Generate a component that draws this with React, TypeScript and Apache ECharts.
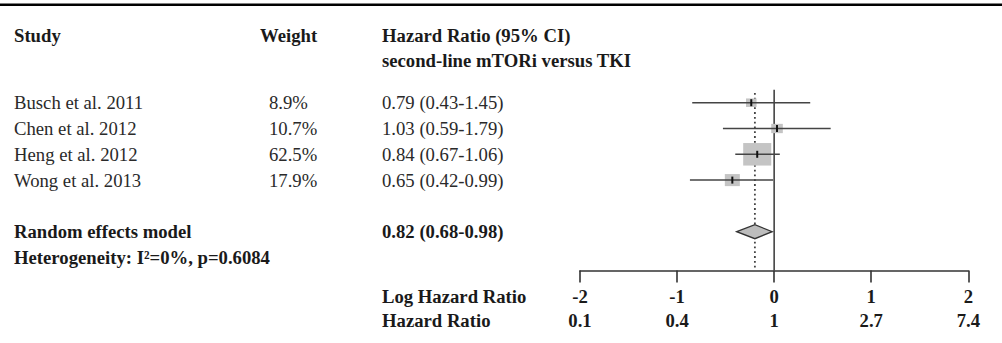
import React, { useEffect, useRef } from "react";
import * as echarts from "echarts";

const studies = ["Busch et al. 2011", "Chen et al. 2012", "Heng et al. 2012", "Wong et al. 2013"];
const weights = [8.9, 10.7, 62.5, 17.9];
const weightLabels = ["8.9%", "10.7%", "62.5%", "17.9%"];
const hr = [0.79, 1.03, 0.84, 0.65];
const lower = [0.43, 0.59, 0.67, 0.42];
const upper = [1.45, 1.79, 1.06, 0.99];
const hrLabels = ["0.79 (0.43-1.45)", "1.03 (0.59-1.79)", "0.84 (0.67-1.06)", "0.65 (0.42-0.99)"];

const pooledHR = 0.82;
const pooledLower = 0.68;
const pooledUpper = 0.98;
const pooledLabel = "0.82 (0.68-0.98)";
const summaryRow = 5;
const heterogeneityRow = 6;

const logTicks = [-2, -1, 0, 1, 2];
const hrTickLabels = ["0.1", "0.4", "1", "2.7", "7.4"];

const FONT = "'Liberation Serif', 'Times New Roman', serif";
const FS = 18.7;

export default function App() {
  const ref = useRef<HTMLDivElement>(null);

  useEffect(() => {
    if (!ref.current) return;
    const chart = echarts.init(ref.current, undefined, { renderer: "svg" });

    const studyData = studies.map((s, i) => [
      Math.log(hr[i]),
      i,
      Math.log(lower[i]),
      Math.log(upper[i]),
      weights[i],
    ]);
    const pooledData = [[Math.log(pooledHR), summaryRow, Math.log(pooledLower), Math.log(pooledUpper)]];
    const refData = [
      [0, -0.5, 0],
      [Math.log(pooledHR), -0.38, 1],
    ];

    const option: any = {
      animation: false,
      grid: { left: 580, right: 33.7, top: 89.8, bottom: 72.6 },
      xAxis: {
        type: "value",
        position: "bottom",
        min: -2,
        max: 2,
        interval: 1,
        splitLine: { show: false },
        axisLine: { show: true, onZero: false, lineStyle: { color: "#333", width: 1.6 } },
        axisTick: { show: true, length: 12, lineStyle: { color: "#333", width: 1.6 } },
        axisLabel: {
          margin: 14,
          formatter: (v: number) => {
            const idx = logTicks.indexOf(v);
            return `{a|${v}}\n{b|${idx >= 0 ? hrTickLabels[idx] : ""}}`;
          },
          rich: {
            a: { fontFamily: FONT, fontSize: FS, fontWeight: "bold", color: "#1a1a1a", lineHeight: 24 },
            b: { fontFamily: FONT, fontSize: FS, fontWeight: "bold", color: "#1a1a1a", lineHeight: 24 },
          },
        },
      },
      yAxis: {
        type: "value",
        inverse: true,
        min: -0.5,
        max: 6.5,
        show: false,
      },
      series: [
        {
          type: "custom",
          z: 1,
          data: refData,
          renderItem: (params: any, api: any) => {
            const x = api.value(0);
            const top = api.coord([x, api.value(1)]);
            const bottom = api.coord([x, 6.5]);
            const dotted = api.value(2) === 1;
            return {
              type: "line",
              shape: { x1: top[0], y1: top[1], x2: bottom[0], y2: bottom[1] },
              style: {
                stroke: "#444",
                lineWidth: dotted ? 1.8 : 1.6,
                lineDash: dotted ? [1.8, 3] : null,
              },
            };
          },
        },
        {
          type: "custom",
          z: 2,
          data: studyData,
          encode: { x: [0, 2, 3], y: 1 },
          renderItem: (params: any, api: any) => {
            const est = api.value(0);
            const row = api.value(1);
            const lo = api.value(2);
            const hi = api.value(3);
            const w = api.value(4);
            const p = api.coord([est, row]);
            const pl = api.coord([lo, row]);
            const ph = api.coord([hi, row]);
            const bw = 3.55 * Math.sqrt(w);
            const bh = 2.85 * Math.sqrt(w);
            return {
              type: "group",
              children: [
                {
                  type: "rect",
                  shape: { x: p[0] - bw / 2, y: p[1] - bh / 2, width: bw, height: bh },
                  style: { fill: "#c4c4c4" },
                },
                {
                  type: "line",
                  shape: { x1: pl[0], y1: p[1], x2: ph[0], y2: p[1] },
                  style: { stroke: "#444", lineWidth: 1.5 },
                },
                {
                  type: "line",
                  shape: { x1: p[0], y1: p[1] - 3.5, x2: p[0], y2: p[1] + 3.5 },
                  style: { stroke: "#111", lineWidth: 2 },
                },
              ],
            };
          },
        },
        {
          type: "custom",
          z: 2,
          data: pooledData,
          encode: { x: [0, 2, 3], y: 1 },
          renderItem: (params: any, api: any) => {
            const row = api.value(1);
            const p = api.coord([api.value(0), row]);
            const pl = api.coord([api.value(2), row]);
            const ph = api.coord([api.value(3), row]);
            const h = 7;
            return {
              type: "polygon",
              shape: {
                points: [
                  [pl[0], p[1]],
                  [p[0], p[1] - h],
                  [ph[0], p[1]],
                  [p[0], p[1] + h],
                ],
              },
              style: { fill: "#bdbdbd", stroke: "#333", lineWidth: 1.3 },
            };
          },
        },
      ],
    };

    chart.setOption(option);

    const rowY = (r: number) => chart.convertToPixel({ yAxisIndex: 0 }, r) as number;
    const regular = (text: string, x: number, y: number) => ({
      type: "text",
      x,
      y,
      style: {
        text,
        fontFamily: FONT,
        fontSize: FS,
        fill: "#2a2a2a",
        verticalAlign: "middle",
        align: "left",
      },
    });
    const bold = (text: string, x: number, y: number) => ({
      type: "text",
      x,
      y,
      style: {
        text,
        fontFamily: FONT,
        fontSize: FS,
        fontWeight: "bold",
        fill: "#1a1a1a",
        verticalAlign: "middle",
        align: "left",
      },
    });

    const axisY = rowY(6.5);
    const graphics: any[] = [
      {
        type: "line",
        shape: { x1: 0, y1: 4.7, x2: 1002, y2: 4.7 },
        style: { stroke: "#000", lineWidth: 2.6 },
      },
      bold("Study", 14, 35),
      bold("Weight", 260, 35),
      bold("Hazard Ratio (95% CI)", 382, 35),
      bold("second-line mTORi versus TKI", 382, 60),
    ];
    studies.forEach((s, i) => {
      const y = rowY(i);
      graphics.push(regular(s, 14, y));
      graphics.push(regular(weightLabels[i], 269, y));
      graphics.push(regular(hrLabels[i], 382, y));
    });
    graphics.push(bold("Random effects model", 14, rowY(summaryRow)));
    graphics.push(bold(pooledLabel, 382, rowY(summaryRow)));
    graphics.push(bold("Heterogeneity: I²=0%, p=0.6084", 14, rowY(heterogeneityRow)));
    graphics.push(bold("Log Hazard Ratio", 382, axisY + 26.5));
    graphics.push(bold("Hazard Ratio", 382, axisY + 50.5));

    chart.setOption({ graphic: graphics });

    return () => chart.dispose();
  }, []);

  return (
    <div
      ref={ref}
      style={{ position: "fixed", left: 0, top: 0, width: 1002, height: 343, background: "#fff" }}
    />
  );
}
